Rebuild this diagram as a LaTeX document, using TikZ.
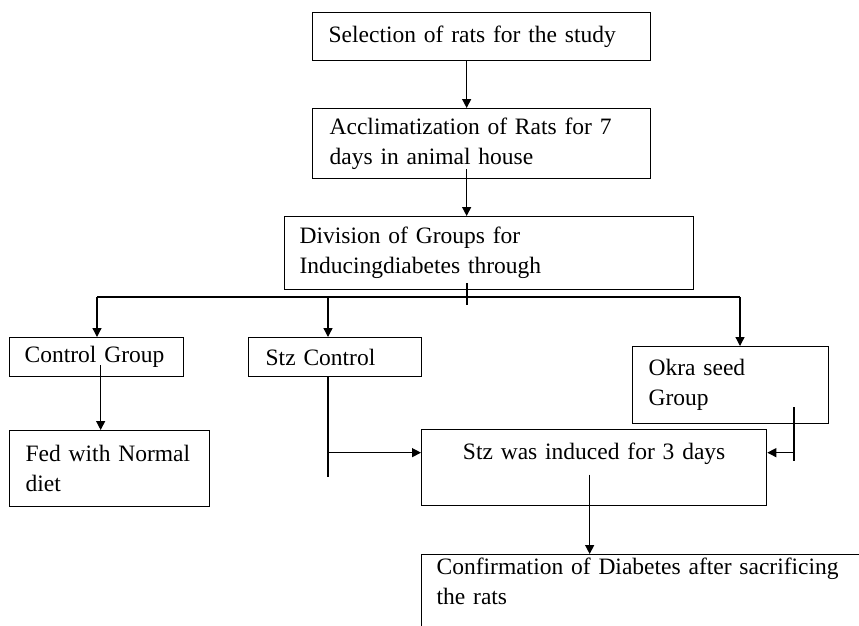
\documentclass[tikz,border=0pt]{standalone}
\usepackage{fontspec}
\setmainfont{Liberation Serif}
\usetikzlibrary{arrows.meta,calc}
\newcommand{\stagefont}{\fontsize{23.5}{30}\selectfont}

\begin{document}
\begin{tikzpicture}[x=1pt,y=-1pt,line width=1.3pt,
  stage/.style={draw,anchor=north west,inner ysep=0pt,align=left,font=\stagefont},
  link/.style={-{Triangle[length=9pt,width=9pt]}}]
  \useasboundingbox (0,0) rectangle (859,625);
  \clip (0,0) rectangle (859,625);

  \node[stage,inner xsep=16pt,text width=306pt,minimum height=48pt] (select) at (312,12) {Selection of rats for the study};
  \node[stage,inner xsep=17pt,text width=304pt,minimum height=70pt] (acclim) at (312,108) {Acclimatization of Rats for 7\\days in animal house};
  \node[stage,inner xsep=15pt,text width=379pt,minimum height=73pt] (division) at (284,216) {Division of Groups for\\Inducingdiabetes through};
  \node[stage,inner xsep=15pt,text width=144pt,minimum height=39pt] (ctrl) at (9,337) {Control Group};
  \node[stage,inner xsep=17pt,text width=139pt,minimum height=39pt] (stzc) at (248,337) {Stz Control};
  \node[stage,inner xsep=16pt,text width=164pt,minimum height=77pt] (okra) at (632,346) {Okra seed\\Group};
  \node[stage,inner xsep=16pt,text width=168pt,minimum height=76pt] (fed) at (9,430) {Fed with Normal\\diet};
  \node[stage,align=center,inner xsep=15pt,text width=315pt,minimum height=76pt,text depth=32pt] (ind) at (421,429) {Stz was induced for 3 days};
  \node[stage,inner xsep=15pt,inner ysep=3.5pt,text width=450pt,text depth=90pt] (conf) at (421,554) {Confirmation of Diabetes after sacrificing\\the rats};

  \coordinate (fork) at (467,297);
  \coordinate (busL) at (97,297);
  \coordinate (busR) at (740,297);
  \coordinate (stzfoot) at (328,477);
  \coordinate (okrafoot) at (794,461);

  \draw[link] ([xshift=-15pt]select.south) -- ([xshift=-15pt]select.south |- acclim.north);
  \draw[link] ([xshift=-15pt,yshift=10pt]acclim.south) -- ([xshift=-15pt]acclim.south |- division.north);
  \draw ([yshift=7pt]fork |- division.south) -- ([yshift=-8pt]fork);
  \draw (busL) -- (busR);
  \draw[link] (busL) -- (busL |- ctrl.north);
  \draw[link] (stzfoot |- fork) -- (stzfoot |- stzc.north);
  \draw[link] (busR) -- (busR |- okra.north);
  \draw[link] ([xshift=4pt,yshift=-8pt]ctrl.center) -- ([xshift=4pt]ctrl.center |- fed.north);
  \draw (stzfoot |- stzc.south) -- (stzfoot);
  \draw[link] ([yshift=15pt]stzfoot |- ind.west) -- ([yshift=15pt]ind.west);
  \draw ([yshift=17pt]okrafoot |- okra.south) -- (okrafoot);
  \draw[link] ([yshift=15pt]okrafoot |- ind.east) -- ([yshift=15pt]ind.east);
  \draw[link] ([xshift=-4.5pt,yshift=-7pt]ind.center) -- ([xshift=-4.5pt]ind.center |- conf.north);
\end{tikzpicture}
\end{document}
